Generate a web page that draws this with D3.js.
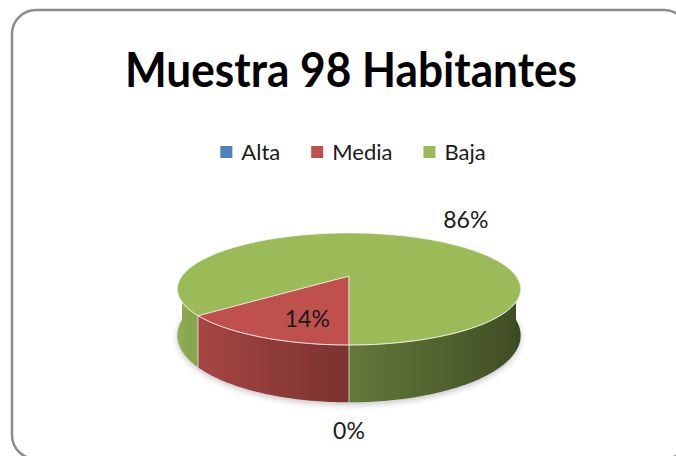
<!DOCTYPE html>
<html>
<head>
<meta charset="utf-8">
<script src="https://d3js.org/d3.v7.min.js"></script>
<style>
  body { margin: 0; background: #fff; }
  svg { display: block; }
</style>
</head>
<body>
<svg width="676" height="456"></svg>
<script>
const title = "Muestra 98 Habitantes";
const categories = ["Alta", "Media", "Baja"];
const values = [0, 14, 86];
const colors = ["#4f81bd", "#c0504d", "#9bbb59"];

const svg = d3.select("svg");
const font = "Lato, 'Open Sans', sans-serif";

// frame
svg.append("rect")
  .attr("x", 12).attr("y", 10)
  .attr("width", 676).attr("height", 449)
  .attr("rx", 24)
  .attr("fill", "#fff")
  .attr("stroke", "#8c8c8c")
  .attr("stroke-width", 2.5);

// title
svg.append("text")
  .attr("x", 351).attr("y", 87)
  .attr("text-anchor", "middle")
  .attr("font-family", font)
  .attr("font-weight", "bold")
  .attr("font-size", 48)
  .attr("textLength", 452)
  .attr("lengthAdjust", "spacingAndGlyphs")
  .attr("fill", "#000")
  .text(title);

// legend
const legend = svg.append("g");
let lx = 0;
categories.forEach((c, i) => {
  const g = legend.append("g").attr("transform", `translate(${lx},0)`);
  g.append("rect").attr("x", 0).attr("y", -14).attr("width", 12).attr("height", 12).attr("fill", colors[i]);
  const t = g.append("text")
    .attr("x", 21).attr("y", 0)
    .attr("font-family", font).attr("font-size", 22).attr("fill", "#1a1a1a")
    .text(c);
  lx += 21 + t.node().getComputedTextLength() + 31;
});
const legW = lx - 31;
legend.attr("transform", `translate(${353 - legW / 2},160)`);

// 3D pie projection
const cx = 349, cy = 276, rx = 167, ry = 53, k = 0.232, depth = 44;
function proj(theta, r, dz) {
  const u = Math.sin(theta) * r, v = -Math.cos(theta) * r;
  const s = 1 / (1 - k * v);
  return [cx + rx * u * s, cy + ry * v * s + dz * s];
}
function shade(base, theta) {
  const u = Math.sin(theta);
  const b = u < 0 ? 0.64 - 0.30 * u : 0.64 - 0.26 * u;
  const c = d3.rgb(base);
  return d3.rgb(c.r * b, c.g * b, c.b * b).formatHex();
}

const pie = d3.pie().sort(null).startAngle(Math.PI).endAngle(3 * Math.PI);
const arcs = pie(values);
const line = d3.line();
const step = Math.PI / 180;

function range(a0, a1) {
  const pts = [];
  const n = Math.max(1, Math.ceil((a1 - a0) / step));
  for (let i = 0; i <= n; i++) pts.push(a0 + (a1 - a0) * i / n);
  return pts;
}

const defs = svg.append("defs");

// shadow
defs.append("filter").attr("id", "blur").attr("x", "-20%").attr("y", "-50%").attr("width", "140%").attr("height", "200%")
  .append("feGaussianBlur").attr("stdDeviation", 3);
const full = range(0, 2 * Math.PI).map(a => proj(a, 1, depth + 2));
svg.append("path")
  .attr("d", line(full) + "Z")
  .attr("fill", "#000").attr("opacity", 0.22)
  .attr("filter", "url(#blur)");

// sides (front half only), one path per visible piece with a horizontal gradient
const sides = svg.append("g");
let gid = 0;
arcs.forEach((d, i) => {
  if (d.endAngle - d.startAngle <= 0) return;
  [0, 1].forEach(n => {
    const lo = Math.max(d.startAngle, Math.PI / 2 + 2 * Math.PI * n);
    const hi = Math.min(d.endAngle, 3 * Math.PI / 2 + 2 * Math.PI * n);
    if (hi <= lo) return;
    const pts = range(lo, hi);
    const topPts = pts.map(a => proj(a, 1, 0));
    const botPts = pts.map(a => proj(a, 1, depth)).reverse();
    const xs = topPts.map(p => p[0]);
    const x0 = d3.min(xs), x1 = d3.max(xs);
    const id = "side" + (gid++);
    const grad = defs.append("linearGradient").attr("id", id)
      .attr("gradientUnits", "userSpaceOnUse")
      .attr("x1", x0).attr("y1", 0).attr("x2", x1).attr("y2", 0);
    const stops = pts.map((a, j) => ({ off: (xs[j] - x0) / (x1 - x0 || 1), col: shade(colors[i], a) }))
      .sort((p, q) => p.off - q.off);
    grad.selectAll("stop").data(stops).enter().append("stop")
      .attr("offset", s => s.off).attr("stop-color", s => s.col);
    sides.append("path")
      .attr("d", line(topPts.concat(botPts)) + "Z")
      .attr("fill", `url(#${id})`);
  });
});

// separators on the side
arcs.forEach(d => {
  const a = d.startAngle % (2 * Math.PI);
  if (Math.cos(a) < 0 && d.endAngle > d.startAngle) {
    const p0 = proj(a, 1, 0), p1 = proj(a, 1, depth);
    sides.append("line")
      .attr("x1", p0[0]).attr("y1", p0[1]).attr("x2", p1[0]).attr("y2", p1[1])
      .attr("stroke", "#fff").attr("stroke-opacity", 0.7).attr("stroke-width", 1);
  }
});

// top faces
const tops = svg.append("g");
arcs.forEach((d, i) => {
  if (d.endAngle - d.startAngle <= 0) return;
  const pts = [[cx, cy]].concat(range(d.startAngle, d.endAngle).map(a => proj(a, 1, 0)));
  tops.append("path")
    .attr("d", line(pts) + "Z")
    .attr("fill", colors[i])
    .attr("stroke", "#fff").attr("stroke-opacity", 0.6).attr("stroke-width", 1)
    .attr("stroke-linejoin", "round");
});

// rim highlight along front edge
svg.append("path")
  .attr("d", line(range(Math.PI / 2, 3 * Math.PI / 2).map(a => proj(a, 1, 0))))
  .attr("fill", "none").attr("stroke", "#fff").attr("stroke-opacity", 0.45).attr("stroke-width", 1);

// data labels
arcs.forEach((d, i) => {
  const mid = (d.startAngle + d.endAngle) / 2;
  let x, y;
  if (i === 1) {
    [x, y] = proj(mid, 0.5, 0);
    x -= 2; y += 16;
  } else if (i === 0) {
    [x, y] = proj(mid, 1, depth);
    y += 29;
  } else {
    [x, y] = proj(mid, 1, 0);
    x += 58; y -= 16;
  }
  svg.append("text")
    .attr("x", x).attr("y", y)
    .attr("dy", "0.35em")
    .attr("text-anchor", "middle")
    .attr("font-family", font).attr("font-size", 23).attr("fill", "#1a1a1a")
    .text(Math.round(d.data) + "%");
});
</script>
</body>
</html>
